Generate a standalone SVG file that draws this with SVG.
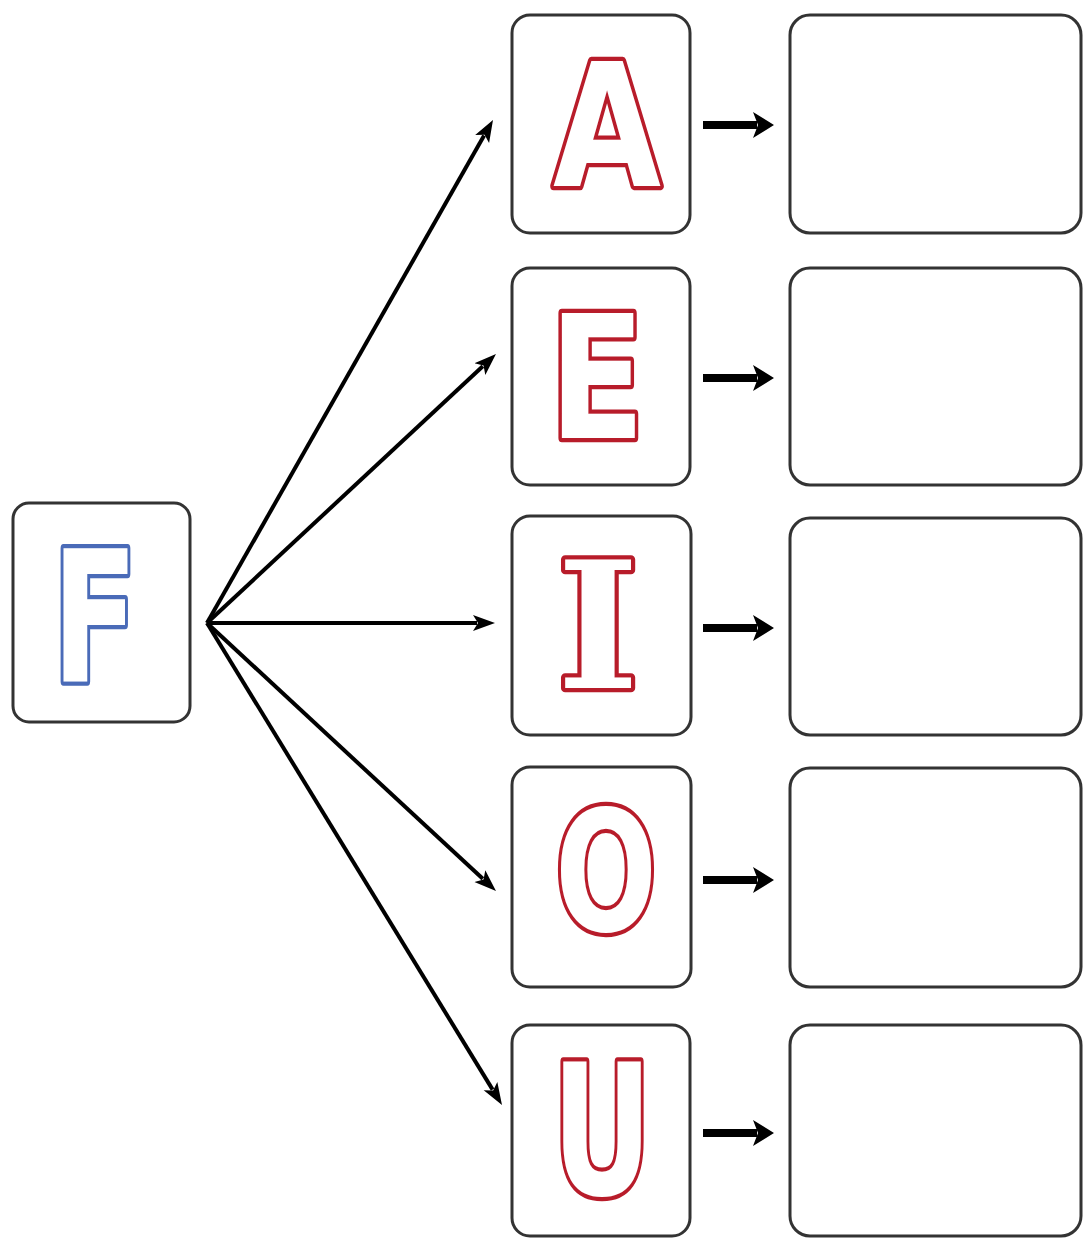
<svg xmlns="http://www.w3.org/2000/svg" width="1083" height="1238" viewBox="0 0 1083 1238">
<defs>
<marker id="fanHead" markerUnits="userSpaceOnUse" markerWidth="24" markerHeight="18" refX="4" refY="9" orient="auto">
<path d="M0,1 L22,9 L0,17 L5,9 Z" fill="#000"/>
</marker>
<marker id="smallHead" markerUnits="userSpaceOnUse" markerWidth="22" markerHeight="28" refX="4" refY="14" orient="auto">
<path d="M0,1 L21,14 L0,27 L5,14 Z" fill="#000"/>
</marker>
</defs>
<style>
.box{fill:#fff;stroke:#333;stroke-width:3}
.vowel{font-family:"DejaVu Sans",sans-serif;font-weight:bold;fill:#fff;stroke:#b81c2a;stroke-width:8.5;stroke-linejoin:round;paint-order:stroke}
.serif{font-family:"DejaVu Serif",serif}
.cons{font-family:"DejaVu Sans",sans-serif;font-weight:bold;fill:#fff;stroke:#4a6bb8;stroke-width:8.5;stroke-linejoin:round;paint-order:stroke}
.fan{stroke:#000;stroke-width:4;fill:none;marker-end:url(#fanHead)}
.step{stroke:#000;stroke-width:8;fill:none;marker-end:url(#smallHead)}
</style>
<rect width="1083" height="1238" fill="#fff"/>
<g id="node-F">
<rect class="box" x="13" y="503" width="177" height="219" rx="16"/>
<text class="cons" x="52" y="681" font-size="182" textLength="86" lengthAdjust="spacingAndGlyphs">F</text>
</g>
<g id="node-A">
<rect class="box" x="512" y="15" width="178" height="218" rx="18"/>
<text class="vowel" x="553" y="186" font-size="171" textLength="108" lengthAdjust="spacingAndGlyphs">A</text>
</g>
<g id="node-E">
<rect class="box" x="512" y="268" width="178" height="217" rx="18"/>
<text class="vowel" x="549" y="438" font-size="171" textLength="96" lengthAdjust="spacingAndGlyphs">E</text>
</g>
<g id="node-I">
<rect class="box" x="512" y="516" width="179" height="219" rx="18"/>
<text class="vowel serif" x="557" y="688" font-size="176" textLength="82" lengthAdjust="spacingAndGlyphs">I</text>
</g>
<g id="node-O">
<rect class="box" x="512" y="767" width="179" height="220" rx="18"/>
<text class="vowel" x="555" y="931" font-size="167" textLength="102" lengthAdjust="spacingAndGlyphs">O</text>
</g>
<g id="node-U">
<rect class="box" x="512" y="1025" width="178" height="211" rx="18"/>
<text class="vowel" x="552" y="1194" font-size="181" textLength="100" lengthAdjust="spacingAndGlyphs">U</text>
</g>
<g id="answer-A"><rect class="box" x="790" y="15" width="291" height="218" rx="20"/></g>
<g id="answer-E"><rect class="box" x="790" y="268" width="291" height="217" rx="20"/></g>
<g id="answer-I"><rect class="box" x="790" y="518" width="291" height="217" rx="20"/></g>
<g id="answer-O"><rect class="box" x="790" y="768" width="291" height="219" rx="20"/></g>
<g id="answer-U"><rect class="box" x="790" y="1025" width="291" height="211" rx="20"/></g>
<g id="connectors">
<line class="fan" x1="207" y1="623" x2="484.1" y2="135.6"/>
<line class="fan" x1="207" y1="623" x2="482.8" y2="366.3"/>
<line class="fan" x1="207" y1="623" x2="477" y2="623"/>
<line class="fan" x1="207" y1="623" x2="482.8" y2="878.8"/>
<line class="fan" x1="207" y1="623" x2="492.6" y2="1089.6"/>
<line class="step" x1="703" y1="125" x2="757" y2="125"/>
<line class="step" x1="703" y1="378" x2="757" y2="378"/>
<line class="step" x1="703" y1="628" x2="757" y2="628"/>
<line class="step" x1="703" y1="880" x2="757" y2="880"/>
<line class="step" x1="703" y1="1133" x2="757" y2="1133"/>
</g>
</svg>
